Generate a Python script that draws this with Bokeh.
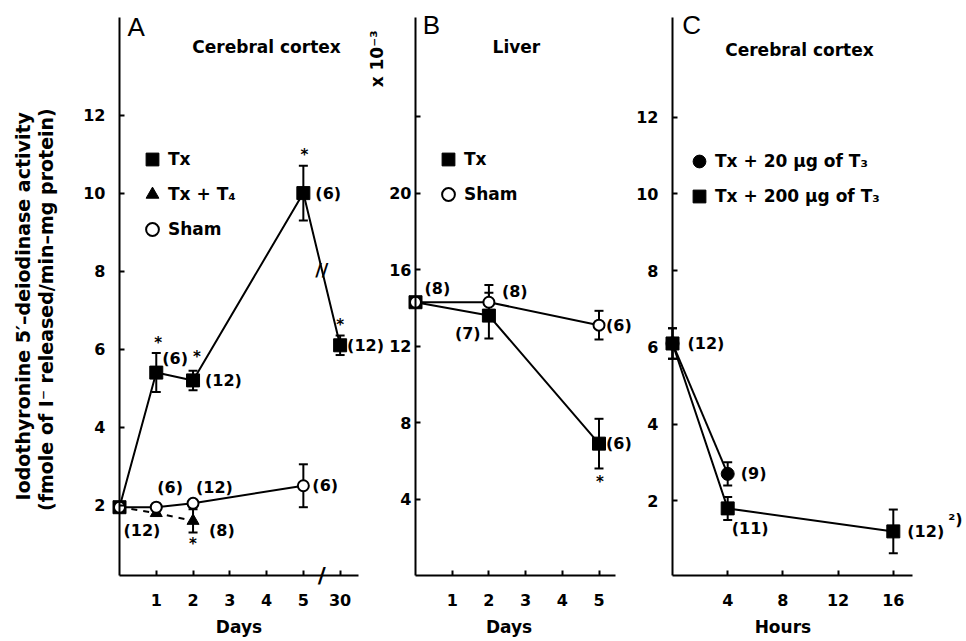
from bokeh.plotting import figure
from bokeh.layouts import row
from bokeh.models import (ColumnDataSource, Whisker, TeeHead, LabelSet, Label,
                          Legend, LegendItem, FixedTicker, Range1d)
from bokeh.embed import file_html
from bokeh.resources import INLINE
from bokeh.core.properties import value

FONT = "DejaVu Sans"
LFONT = "Liberation Sans"

# ---------------- Panel A : cerebral cortex, days ----------------
a_ticks = [1, 2, 3, 4, 5, 6]
a_tick_labels = ["1", "2", "3", "4", "5", "30"]
a_yticks = [2, 4, 6, 8, 10, 12]
a_tx_x = [0, 1, 2, 5, 6]
a_tx_y = [1.95, 5.4, 5.2, 10.0, 6.1]
a_tx_err = [0, 0.5, 0.25, 0.7, 0.25]
a_tx_n = ["", "(6)", "(12)", "(6)", "(12)"]
a_tx_sig = ["", "*", "*", "*", "*"]
a_t4_x = [0, 1, 2]
a_t4_y = [1.95, 1.8, 1.6]
a_t4_err = [0, 0, 0.3]
a_t4_n = ["", "", "(8)"]
a_t4_sig = ["", "", "*"]
a_sham_x = [0, 1, 2, 5]
a_sham_y = [1.95, 1.95, 2.05, 2.5]
a_sham_err = [0, 0, 0, 0.55]
a_sham_n = ["(12)", "(6)", "(12)", "(6)"]
y_title = ["Iodothyronine 5\u2032\u2013deiodinase activity",
           "(fmole of I\u207b  released/min\u2013mg protein)"]

# ---------------- Panel B : liver, days ----------------
b_ticks = [1, 2, 3, 4, 5]
b_yticks = [4, 8, 12, 16, 20, 24]
b_ytick_labels = ["4", "8", "12", "16", "20", ""]
b_x = [0, 2, 5]
b_tx_y = [14.3, 13.6, 6.9]
b_tx_err = [0, 1.2, 1.3]
b_tx_n = ["", "(7)", "(6)"]
b_tx_sig = ["", "", "*"]
b_sham_y = [14.3, 14.3, 13.1]
b_sham_err = [0, 0.9, 0.75]
b_sham_n = ["(8)", "(8)", "(6)"]

# ---------------- Panel C : cerebral cortex, hours ----------------
c_ticks = [4, 8, 12, 16]
c_yticks = [2, 4, 6, 8, 10, 12]
c_lo_x = [0, 4]
c_lo_y = [6.1, 2.7]
c_lo_err = [0.4, 0.3]
c_lo_n = ["", "(9)"]
c_hi_x = [0, 4, 16]
c_hi_y = [6.1, 1.8, 1.2]
c_hi_err = [0.4, 0.3, 0.57]
c_hi_n = ["(12)", "(11)", "(12)"]

# label placement (screen px offsets from the data point)
a_tx_dx = [0, 6, 12, 12, 7];      a_tx_dy = [0, 14, 0, 0, 0]
a_tx_sdx = [0, 2, 4, 1, 0];       a_tx_sdy = [0, 30, 23, 38, 20]
a_t4_dx = [0, 0, 16];             a_t4_dy = [0, 0, -10]
a_t4_sdy = [0, 0, -23]
a_sham_dx = [4, 1, 3, 9];         a_sham_dy = [-23, 20, 16, 0]
b_tx_dx = [0, -34, 7];            b_tx_dy = [0, -18, 0]
b_tx_sdy = [0, 0, -38]
b_sham_dx = [9, 13, 7];           b_sham_dy = [14, 11, 0]
c_lo_dx = [0, 13];                c_lo_dy = [0, 0]
c_hi_dx = [15, 4, 14];            c_hi_dy = [0, -20, 0]

H = 640
AXIS_Y = 575   # pixel row of the x axes


def make_fig(width, org_px, x_ppu, y0, y_ppu, xb, yb, xticks, yticks,
             xlabels=None, ylabels=None, ystandoff=14):
    # the plot frame covers the whole canvas; axes are pinned inside it
    xr = Range1d(-org_px / x_ppu, (width - org_px) / x_ppu)
    yr = Range1d(y0 - (H - AXIS_Y) / y_ppu, y0 + AXIS_Y / y_ppu)
    p = figure(width=width, height=H, x_range=xr, y_range=yr,
               output_backend="svg", toolbar_location=None,
               min_border_left=0, min_border_right=0,
               min_border_top=0, min_border_bottom=0)
    p.outline_line_color = None
    p.grid.visible = False
    p.background_fill_color = "white"
    p.border_fill_color = "white"
    p.xaxis.fixed_location = y0
    p.yaxis.fixed_location = 0
    for ax in (p.xaxis[0], p.yaxis[0]):
        ax.axis_line_width = 2
        ax.axis_line_color = "black"
        ax.major_tick_in = 5
        ax.major_tick_out = 0
        ax.major_tick_line_width = 2
        ax.minor_tick_line_color = None
        ax.major_label_text_font = FONT
        ax.major_label_text_font_style = "bold"
        ax.major_label_text_font_size = "16px"
        ax.major_label_text_color = "black"
    p.xaxis.bounds = xb
    p.yaxis.bounds = yb
    p.xaxis.ticker = FixedTicker(ticks=xticks)
    p.yaxis.ticker = FixedTicker(ticks=yticks)
    if xlabels:
        p.xaxis.major_label_overrides = {t: l for t, l in zip(xticks, xlabels)}
    if ylabels:
        p.yaxis.major_label_overrides = {t: l for t, l in zip(yticks, ylabels)}
    p.xaxis.major_label_standoff = 18
    p.yaxis.major_label_standoff = ystandoff
    return p


def text(p, x, y, s, size="17px", bold=True, font=FONT, align="center",
         baseline="middle", angle=0, dx=0, dy=0):
    p.add_layout(Label(x=x, y=y, x_offset=dx, y_offset=dy, text=s, text_font=font,
                       text_font_style="bold" if bold else "normal",
                       text_font_size=size, text_align=align, text_baseline=baseline,
                       angle=angle, angle_units="deg", text_color="black"))


def whiskers(p, xs, ys, errs):
    xw = [x for x, e in zip(xs, errs) if e > 0]
    up = [y + e for y, e in zip(ys, errs) if e > 0]
    lo = [y - e for y, e in zip(ys, errs) if e > 0]
    src = ColumnDataSource(dict(x=xw, upper=up, lower=lo))
    w = Whisker(base="x", upper="upper", lower="lower", source=src, level="underlay",
                line_width=2, line_color="black",
                upper_head=TeeHead(size=9, line_width=2, line_color="black"),
                lower_head=TeeHead(size=9, line_width=2, line_color="black"))
    p.add_layout(w)


def nlabels(p, xs, ys, texts, dx, dy, align="left", size="16px"):
    src = ColumnDataSource(dict(x=xs, y=ys, t=texts, dx=dx, dy=dy))
    ls = LabelSet(x="x", y="y", text="t", x_offset="dx", y_offset="dy", source=src,
                  text_font=value(FONT), text_font_style="bold", text_font_size=size,
                  text_align=align, text_baseline="middle", text_color="black")
    p.add_layout(ls)


def legend(p, items, loc):
    lg = Legend(items=[LegendItem(label=l, renderers=[r]) for l, r in items],
                location=loc, glyph_width=32, glyph_height=32, label_height=32,
                spacing=3, padding=0, margin=0, border_line_color=None,
                background_fill_alpha=0, label_standoff=0,
                label_text_font=FONT, label_text_font_style="bold",
                label_text_font_size="17px", label_text_color="black")
    p.add_layout(lg)


# ================= Panel A (canvas x 0..389) =================
pa = make_fig(389, 119, 36.77, 0.2, 39.02, (0, 6.5), (0.2, 14.5),
              a_ticks, a_yticks, a_tick_labels)
whiskers(pa, a_tx_x, a_tx_y, a_tx_err)
whiskers(pa, a_t4_x, a_t4_y, a_t4_err)
whiskers(pa, a_sham_x, a_sham_y, a_sham_err)
pa.line(a_tx_x, a_tx_y, line_width=2, line_color="black")
pa.line(a_t4_x, a_t4_y, line_width=2, line_color="black", line_dash="6 6")
pa.line(a_sham_x, a_sham_y, line_width=2, line_color="black")
ra_tx = pa.scatter(a_tx_x, a_tx_y, marker="square", size=13, color="black")
ra_t4 = pa.scatter(a_t4_x, a_t4_y, marker="triangle", size=12, color="black")
ra_sh = pa.scatter(a_sham_x, a_sham_y, marker="circle", size=11, fill_color="white",
                   line_color="black", line_width=2)
nlabels(pa, a_tx_x, a_tx_y, a_tx_n, a_tx_dx, a_tx_dy)
nlabels(pa, a_tx_x, a_tx_y, a_tx_sig, a_tx_sdx, a_tx_sdy, align="center", size="15px")
nlabels(pa, a_t4_x, a_t4_y, a_t4_n, a_t4_dx, a_t4_dy)
nlabels(pa, a_t4_x, a_t4_y, a_t4_sig, [0, 0, 0], a_t4_sdy, align="center", size="15px")
nlabels(pa, a_sham_x, a_sham_y, a_sham_n, a_sham_dx, a_sham_dy)
legend(pa, [("Tx", ra_tx), ("Tx + T\u2084", ra_t4), ("Sham", ra_sh)], (136, 395))
# axis / line breaks between day 5 and day 30
mid = (a_tx_x[3] + a_tx_x[4]) / 2
text(pa, mid, (a_tx_y[3] + a_tx_y[4]) / 2, "//", size="18px")
text(pa, mid, 0.2, "/", size="22px")
text(pa, 0.22, 14.65, "A", size="26px", bold=False, font=LFONT, align="left", baseline="top")
text(pa, 4.0, 13.75, "Cerebral cortex")
text(pa, 7.0, 13.44, "x 10\u207b\u00b3", size="17px", angle=90)
text(pa, 3.25, 0.2, "Days", dy=-51)
text(pa, 0, 7.1, y_title[0], size="19px", angle=90, dx=-97)
text(pa, 0, 7.1, y_title[1], size="19px", angle=90, dx=-74)

# ================= Panel B (canvas x 389..636) =================
pb = make_fig(247, 26, 36.7, 0, 19.11, (0, 5.45), (0, 29.2),
              b_ticks, b_yticks, None, b_ytick_labels, ystandoff=4)
whiskers(pb, b_x, b_tx_y, b_tx_err)
whiskers(pb, b_x, b_sham_y, b_sham_err)
pb.line(b_x, b_tx_y, line_width=2, line_color="black")
pb.line(b_x, b_sham_y, line_width=2, line_color="black")
rb_tx = pb.scatter(b_x, b_tx_y, marker="square", size=13, color="black")
rb_sh = pb.scatter(b_x, b_sham_y, marker="circle", size=11, fill_color="white",
                   line_color="black", line_width=2)
nlabels(pb, b_x, b_tx_y, b_tx_n, b_tx_dx, b_tx_dy)
nlabels(pb, b_x, b_tx_y, b_tx_sig, [0, 0, 1], b_tx_sdy, align="center", size="15px")
nlabels(pb, b_x, b_sham_y, b_sham_n, b_sham_dx, b_sham_dy)
legend(pb, [("Tx", rb_tx), ("Sham", rb_sh)], (43, 430))
text(pb, 0.2, 29.6, "B", size="26px", bold=False, font=LFONT, align="left", baseline="top")
text(pb, 2.75, 27.65, "Liver")
text(pb, 2.55, 0, "Days", dy=-51)

# ================= Panel C (canvas x 636..964) =================
pc = make_fig(328, 36, 13.8, 0.05, 38.35, (0, 17.4), (0.05, 14.6), c_ticks, c_yticks)
whiskers(pc, c_hi_x, c_hi_y, c_hi_err)
whiskers(pc, c_lo_x, c_lo_y, c_lo_err)
pc.line(c_lo_x, c_lo_y, line_width=2, line_color="black")
pc.line(c_hi_x, c_hi_y, line_width=2, line_color="black")
rc_lo = pc.scatter(c_lo_x, c_lo_y, marker="circle", size=13, color="black")
rc_hi = pc.scatter(c_hi_x, c_hi_y, marker="square", size=13, color="black")
nlabels(pc, c_lo_x, c_lo_y, c_lo_n, c_lo_dx, c_lo_dy)
nlabels(pc, c_hi_x, c_hi_y, c_hi_n, c_hi_dx, c_hi_dy)
legend(pc, [("Tx + 20 \u00b5g of T\u2083", rc_lo), ("Tx + 200 \u00b5g of T\u2083", rc_hi)], (47, 428))
text(pc, 0.7, 14.8, "C", size="26px", bold=False, font=LFONT, align="left", baseline="top")
text(pc, 9.2, 13.75, "Cerebral cortex")
text(pc, 8.0, 0.05, "Hours", dy=-51)
text(pc, c_hi_x[2], c_hi_y[2], "\u00b2)", size="16px", align="left", dx=55, dy=12)

layout = row(pa, pb, pc)
open("out.html", "w").write(file_html(layout, INLINE))
